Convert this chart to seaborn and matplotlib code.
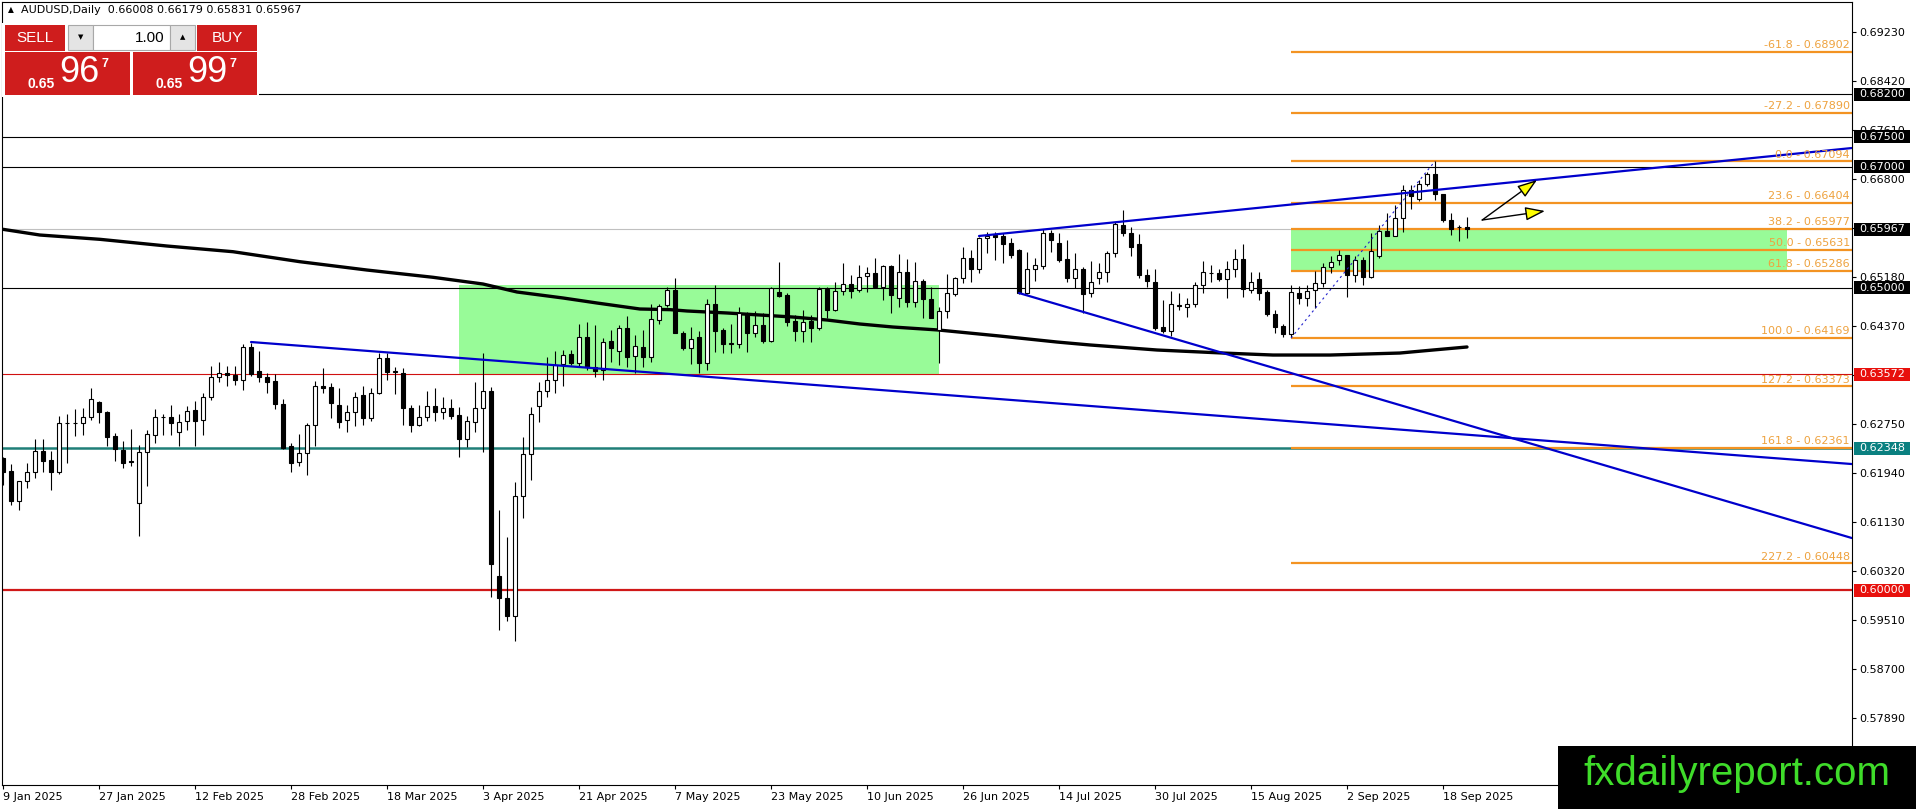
import numpy as np
import pandas as pd
import matplotlib
matplotlib.use("Agg")
import matplotlib.pyplot as plt
from matplotlib.patches import Rectangle
import seaborn as sns

# ---- data (AUDUSD daily, 9 Jan .. 23 Sep 2025) ----
opens = [
    .6218, .6197, .6147, .6180, .6196, .6230, .6215, .6196, .6276, .6277,
    .6276, .6287, .6312, .6295, .6255, .6232, .6214, .6144, .6229, .6257,
    .6287, .6286, .6261, .6280, .6298, .6282, .6319, .6352, .6359, .6356,
    .6347, .6402, .6362, .6352, .6346, .6308, .6239, .6212, .6227, .6274,
    .6337, .6336, .6306, .6282, .6295, .6323, .6285, .6327, .6384, .6361,
    .6360, .6301, .6274, .6286, .6305, .6294, .6302, .6290, .6250, .6279,
    .6301, .6330, .6024, .5987, .5958, .6156, .6226, .6305, .6330, .6348,
    .6374, .6390, .6376, .6418, .6370, .6365, .6412, .6395, .6433, .6387,
    .6403, .6385, .6447, .6471, .6496, .6426, .6401, .6419, .6375, .6473,
    .6430, .6408, .6407, .6456, .6426, .6439, .6412, .6493, .6488, .6445,
    .6428, .6445, .6433, .6498, .6464, .6495, .6507, .6496, .6520, .6524,
    .6501, .6536, .6484, .6526, .6477, .6511, .6482, .6431, .6461, .6490,
    .6516, .6549, .6532, .6582, .6587, .6585, .6574, .6563, .6492, .6532,
    .6536, .6590, .6574, .6547, .6516, .6531, .6491, .6516, .6527, .6557,
    .6604, .6591, .6572, .6522, .6510, .6436, .6428, .6471, .6469, .6474,
    .6505, .6524, .6525, .6515, .6532, .6547, .6496, .6514, .6494, .6457,
    .6437, .6423, .6491, .6484, .6497, .6508, .6534, .6546, .6554, .6522,
    .6546, .6518, .6553, .6594, .6586, .6616, .6661, .6647, .6671, .6688,
    .6655, .6613, .6600, .66008,
]
highs = [
    .6221, .6209, .6181, .6210, .6251, .6250, .6230, .6289, .6291, .6299,
    .6301, .6334, .6313, .6297, .6260, .6247, .6267, .6240, .6265, .6299,
    .6291, .6306, .6291, .6305, .6313, .6327, .6371, .6377, .6371, .6371,
    .6408, .6409, .6396, .6360, .6357, .6317, .6243, .6258, .6276, .6346,
    .6367, .6342, .6334, .6306, .6328, .6338, .6334, .6393, .6393, .6370,
    .6367, .6306, .6307, .6330, .6334, .6320, .6316, .6303, .6288, .6344,
    .6392, .6336, .6132, .6089, .6179, .6254, .6303, .6345, .6385, .6396,
    .6397, .6397, .6441, .6444, .6439, .6417, .6430, .6439, .6453, .6422,
    .6430, .6474, .6474, .6501, .6517, .6428, .6436, .6428, .6482, .6505,
    .6433, .6440, .6468, .6460, .6461, .6459, .6502, .6542, .6491, .6455,
    .6463, .6455, .6501, .6501, .6510, .6541, .6521, .6538, .6535, .6549,
    .6538, .6538, .6556, .6547, .6543, .6514, .6501, .6468, .6523, .6518,
    .6568, .6563, .6584, .6593, .6593, .6590, .6582, .6565, .6560, .6550,
    .6597, .6596, .6590, .6579, .6557, .6534, .6544, .6541, .6561, .6609,
    .6629, .6601, .6589, .6532, .6532, .6480, .6495, .6492, .6484, .6509,
    .6544, .6538, .6532, .6544, .6565, .6572, .6526, .6527, .6496, .6464,
    .6441, .6505, .6503, .6505, .6528, .6541, .6552, .6563, .6555, .6552,
    .6551, .6591, .6604, .6623, .6637, .6670, .6670, .6679, .6691, .6709,
    .6656, .6623, .6604, .66179,
]
lows = [
    .6174, .6141, .6132, .6169, .6185, .6195, .6166, .6192, .6211, .6255,
    .6257, .6281, .6277, .6239, .6213, .6202, .6206, .6090, .6173, .6243,
    .6257, .6256, .6238, .6265, .6238, .6257, .6315, .6345, .6337, .6339,
    .6331, .6354, .6345, .6326, .6299, .6233, .6196, .6206, .6190, .6238,
    .6326, .6285, .6268, .6262, .6271, .6273, .6280, .6325, .6347, .6324,
    .6273, .6261, .6271, .6280, .6280, .6283, .6284, .6221, .6237, .6261,
    .6229, .5989, .5935, .5950, .5917, .6119, .6183, .6279, .6319, .6326,
    .6337, .6372, .6370, .6365, .6352, .6348, .6378, .6373, .6370, .6359,
    .6370, .6378, .6441, .6468, .6425, .6398, .6374, .6359, .6364, .6394,
    .6393, .6392, .6400, .6394, .6419, .6409, .6411, .6485, .6437, .6412,
    .6410, .6411, .6430, .6450, .6461, .6488, .6483, .6494, .6494, .6499,
    .6480, .6459, .6469, .6469, .6469, .6450, .6450, .6375, .6451, .6487,
    .6508, .6510, .6525, .6557, .6546, .6541, .6549, .6490, .6490, .6512,
    .6532, .6560, .6543, .6510, .6499, .6459, .6485, .6507, .6510, .6551,
    .6585, .6553, .6516, .6502, .6430, .6426, .6420, .6463, .6452, .6468,
    .6492, .6510, .6512, .6484, .6518, .6485, .6492, .6480, .6453, .6426,
    .6418, .6419, .6474, .6470, .6466, .6501, .6525, .6538, .6485, .6510,
    .6504, .6517, .6549, .6585, .6585, .6593, .6631, .6644, .6668, .6645,
    .6609, .6587, .6578, .65831,
]
closes = [
    .6196, .6148, .6180, .6196, .6230, .6214, .6195, .6276, .6277, .6276,
    .6286, .6317, .6294, .6254, .6233, .6211, .6212, .6228, .6258, .6287,
    .6286, .6276, .6279, .6296, .6280, .6319, .6353, .6359, .6356, .6347,
    .6402, .6358, .6352, .6345, .6308, .6236, .6210, .6227, .6274, .6337,
    .6335, .6309, .6279, .6295, .6320, .6285, .6327, .6384, .6361, .6362,
    .6301, .6274, .6286, .6305, .6294, .6302, .6289, .6250, .6280, .6302,
    .6330, .6043, .5987, .5958, .6156, .6226, .6291, .6330, .6348, .6372,
    .6389, .6376, .6418, .6370, .6363, .6411, .6400, .6434, .6385, .6404,
    .6385, .6448, .6470, .6496, .6426, .6401, .6415, .6375, .6473, .6429,
    .6408, .6409, .6458, .6426, .6439, .6412, .6499, .6487, .6444, .6428,
    .6444, .6434, .6498, .6463, .6495, .6507, .6495, .6518, .6524, .6501,
    .6536, .6489, .6526, .6477, .6511, .6482, .6451, .6461, .6491, .6516,
    .6549, .6532, .6582, .6586, .6584, .6573, .6554, .6491, .6532, .6538,
    .6590, .6579, .6546, .6516, .6531, .6490, .6509, .6527, .6557, .6606,
    .6591, .6568, .6521, .6512, .6433, .6428, .6474, .6470, .6474, .6505,
    .6526, .6525, .6515, .6532, .6547, .6498, .6509, .6492, .6457, .6436,
    .6423, .6494, .6484, .6495, .6508, .6534, .6542, .6555, .6522, .6546,
    .6518, .6561, .6594, .6586, .6615, .6661, .6652, .6672, .6689, .6655,
    .6612, .6597, .6601, .65967,
]

# moving average (bar index, price)
ma_bar = [0, 4.6, 12.1, 20.5, 28.75, 37.1, 45.5, 53.75, 60, 64.25, 70, 74.25,
          79.6, 83.4, 85.5, 90.5, 98.75, 103, 107.1, 111.25, 116.9, 124.6,
          131.75, 135.9, 144.25, 152.5, 158.75, 165.9, 174.6, 178.75, 183]
ma_val = [.65968, .65874, .65803, .65692, .65598, .65433, .65295, .65175,
          .65064, .64932, .64833, .64750, .64651, .64640, .64618, .64585,
          .64518, .64469, .64403, .64353, .64304, .64204, .64105, .64056,
          .63973, .63923, .63890, .63890, .63923, .63973, .64023]

date_bars = list(range(0, 181, 12))
date_labels = ["9 Jan 2025", "27 Jan 2025", "12 Feb 2025", "28 Feb 2025",
               "18 Mar 2025", "3 Apr 2025", "21 Apr 2025", "7 May 2025",
               "23 May 2025", "10 Jun 2025", "26 Jun 2025", "14 Jul 2025",
               "30 Jul 2025", "15 Aug 2025", "2 Sep 2025", "18 Sep 2025"]

price_ticks = [0.69230, 0.68420, 0.67610, 0.66800, 0.65990, 0.65180, 0.64370,
               0.63560, 0.62750, 0.61940, 0.61130, 0.60320, 0.59510, 0.58700,
               0.57890]

level_price = [0.68200, 0.67500, 0.67000, 0.65967, 0.65000, 0.63572, 0.62348, 0.60000]
level_line = ["black", "black", "black", "#c0c0c0", "black", "#d01010", "#1f7f78", "#d01818"]
level_width = [0.8, 0.8, 0.8, 0.8, 0.8, 0.8, 1.8, 1.6]
level_box = ["black", "black", "black", "black", "black", "#e8100c", "#0a8080", "#e8100c"]

fib_pct = [-61.8, -27.2, 0.0, 23.6, 38.2, 50.0, 61.8, 100.0, 127.2, 161.8, 227.2]
fib_price = [0.68902, 0.67890, 0.67094, 0.66404, 0.65977, 0.65631, 0.65286,
             0.64169, 0.63373, 0.62361, 0.60448]
fib_start = 161
fib_from = (161, 0.64169)
fib_to = (179, 0.67094)

zone_x = [57, 161]
zone_x1 = [117, 223]
zone_lo = [0.63576, 0.65286]
zone_hi = [0.65040, 0.65977]

trend_x0 = [31, 122, 127]
trend_y0 = [0.64105, 0.65858, 0.64915]
trend_x1 = [231.1, 231.1, 231.1]
trend_y1 = [0.62088, 0.67312, 0.60865]

arrow_start = (184.9, 0.66122)
arrow_tips = [(191.75, 0.66783), (192.75, 0.66271)]

W, H = 1916, 809
RED = "#cf1d1d"
FIB = "#f39322"

sns.set_theme(style="white")
plt.rcParams["font.family"] = ["DejaVu Sans"]

fig = plt.figure(figsize=(W / 100, H / 100), dpi=100)
fig.patch.set_facecolor("white")
ax = fig.add_axes([2 / W, (H - 785) / H, 1850 / W, 783 / H])
ax.set_facecolor("white")
ax.set_xlim(-0.125, 231.125)
ax.set_ylim(0.56782, 0.69726)

df = pd.DataFrame({"bar": np.arange(len(opens)), "open": opens, "high": highs,
                   "low": lows, "close": closes})
df["up"] = df["close"] >= df["open"]

# zones
for x0, x1, lo, hi in zip(zone_x, zone_x1, zone_lo, zone_hi):
    ax.add_patch(Rectangle((x0, lo), x1 - x0, hi - lo, fc="#98fb98", ec="none", zorder=1))

# horizontal price levels
for p, c, lw in zip(level_price, level_line, level_width):
    ax.axhline(p, color=c, lw=lw, zorder=2)

# fibonacci levels
ax.hlines(fib_price, fib_start, 231.125, color=FIB, lw=1.6, zorder=2)
for pct, p in zip(fib_pct, fib_price):
    ax.text(230.85, p + 0.00028, f"{pct:.1f} - {p:.5f}", color="#eea23e",
            fontsize=8, ha="right", va="bottom", zorder=7)
ax.plot([fib_from[0], fib_to[0]], [fib_from[1], fib_to[1]], color="#2222cc",
        lw=0.8, ls=(0, (2, 3)), zorder=6)

# moving average
sns.lineplot(x=ma_bar, y=ma_val, color="black", lw=2.4, ax=ax, zorder=3)

# candles
ax.vlines(df["bar"], df["low"], df["high"], color="black", lw=0.8, zorder=4)
body_lo = np.minimum(df["open"], df["close"])
body_h = np.maximum((df["close"] - df["open"]).abs(), 0.00004)
ax.bar(df["bar"], body_h, bottom=body_lo, width=0.62,
       color=np.where(df["up"], "white", "black"), edgecolor="black",
       linewidth=0.8, zorder=5)

# trend lines
for x0, y0, x1, y1 in zip(trend_x0, trend_y0, trend_x1, trend_y1):
    ax.plot([x0, x1], [y0, y1], color="#0000cc", lw=1.6, zorder=6, clip_on=True)

# arrows
for tip in arrow_tips:
    ax.annotate("", xy=tip, xytext=arrow_start,
                arrowprops=dict(arrowstyle="-|>,head_length=1.1,head_width=0.38",
                                fc="#ffff00", ec="black", lw=1.0,
                                mutation_scale=11, shrinkA=0, shrinkB=0),
                zorder=8)

# axes / ticks
for s in ax.spines.values():
    s.set_color("black")
    s.set_linewidth(0.8)
ax.yaxis.tick_right()
ax.set_yticks(price_ticks)
ax.set_yticklabels([f"{p:.5f}" for p in price_ticks])
ax.tick_params(axis="y", right=True, left=False, labelright=True, labelleft=False,
               length=3, width=0.8, pad=2, labelsize=8, colors="black", direction="out")
ax.set_xticks(date_bars)
ax.set_xticklabels(date_labels, ha="left")
ax.tick_params(axis="x", bottom=True, length=3, width=0.8, pad=2, labelsize=8,
               colors="black", direction="out")
ax.grid(False)
ax.set_xlabel("")
ax.set_ylabel("")

# right side level boxes
trans = ax.get_yaxis_transform()
for p, c in zip(level_price, level_box):
    ax.add_patch(Rectangle((1.0011, p - 0.00107), 56 / 1850, 0.00214, transform=trans,
                           fc=c, ec="none", clip_on=False, zorder=10))
    ax.text(1.0038, p, f"{p:.5f}", transform=trans, color="white", fontsize=8,
            ha="left", va="center", clip_on=False, zorder=11)


# ---- overlays in pixel space ----
def prect(x0, y0, x1, y1, **kw):
    fig.add_artist(Rectangle((x0 / W, 1 - y1 / H), (x1 - x0) / W, (y1 - y0) / H,
                             transform=fig.transFigure, **kw))


def ptext(x, y, s, **kw):
    fig.text(x / W, 1 - y / H, s, **kw)


ptext(8, 10, "\u25b2", fontsize=5.5, va="center", ha="left", color="black")
ptext(21, 10, "AUDUSD,Daily  0.66008 0.66179 0.65831 0.65967", fontsize=8,
      va="center", ha="left", color="black")

narrow = ["Liberation Sans Narrow", "Liberation Sans", "DejaVu Sans"]
prect(2, 23, 259, 97, fc="white", ec="none")
prect(5, 25, 65, 51, fc=RED, ec="none")
ptext(35, 38.5, "SELL", fontsize=11, color="white", ha="center", va="center", family=narrow)
prect(68, 25, 93, 50, fc="#e4e4e4", ec="#a8a8a8", lw=0.8)
ptext(80.5, 37.5, "\u25bc", fontsize=5, ha="center", va="center", color="black")
prect(93, 25, 170, 50, fc="white", ec="#a8a8a8", lw=0.8)
ptext(165, 37.5, "1.00", fontsize=11, ha="right", va="center", color="black", family=narrow)
prect(170, 25, 195, 50, fc="#e4e4e4", ec="#a8a8a8", lw=0.8)
ptext(182.5, 37.5, "\u25b2", fontsize=5, ha="center", va="center", color="black")
prect(197, 25, 257, 51, fc=RED, ec="none")
ptext(227, 38.5, "BUY", fontsize=11, color="white", ha="center", va="center", family=narrow)

for x0, x1, big in [(5, 130, "96"), (133, 257, "99")]:
    prect(x0, 52, x1, 95, fc=RED, ec="none")
    ptext(x0 + 22, 84, "0.65", fontsize=10, fontweight="bold", color="white",
          ha="left", va="center", family=narrow)
    ptext(x0 + 54, 73, big, fontsize=26, color="white", ha="left", va="center", family=narrow)
    ptext(x0 + 96, 64, "7", fontsize=9, fontweight="bold", color="white",
          ha="left", va="center", family=narrow)

# watermark
prect(1558, 746, 1916, 809, fc="black", ec="none")
ptext(1737, 774, "fxdailyreport.com", fontsize=29, color="#3fdc2a", ha="center",
      va="center", family=["Liberation Sans", "DejaVu Sans"])

fig.savefig("out.png", dpi=100)
